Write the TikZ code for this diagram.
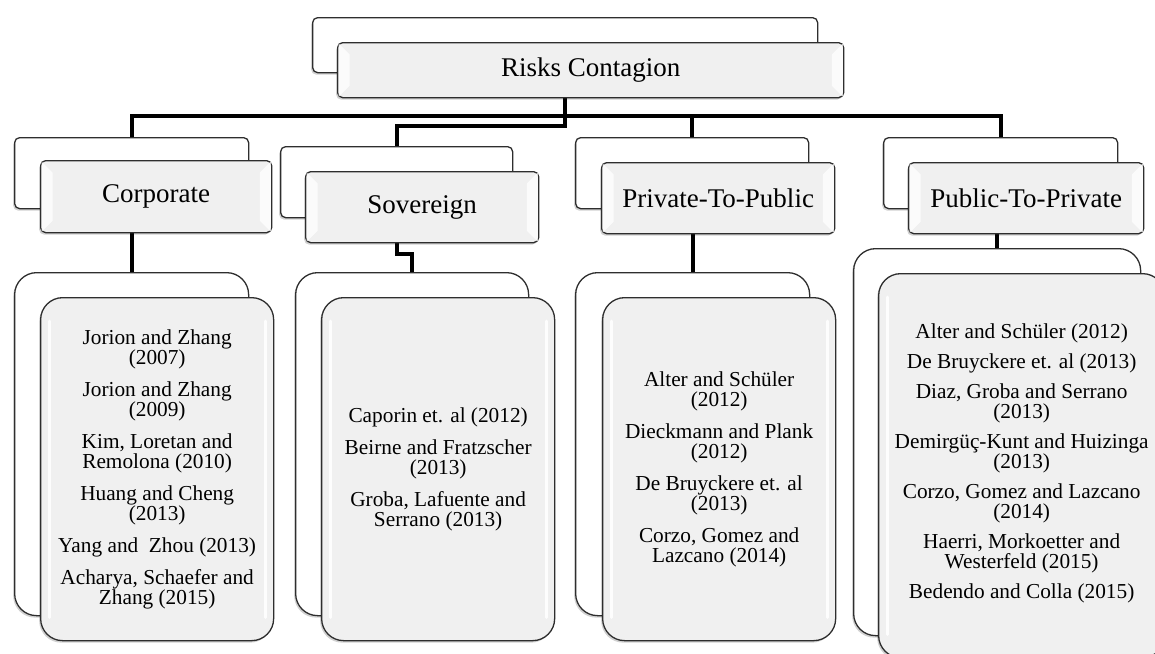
\documentclass[tikz,border=0pt]{standalone}
\usepackage{fontspec}
\setmainfont{Liberation Serif}
\usetikzlibrary{shadows}
\pgfdeclarelayer{background}
\pgfsetlayers{background,main}

\definecolor{edge}{HTML}{2E2E2E}
\definecolor{face}{HTML}{F0F0F0}

\newcommand\cardfont{\fontsize{21.3}{20}\selectfont}

\tikzset{
  tabback/.style={draw=edge, line width=1.3pt, fill=white, rectangle,
    rounded corners=5pt, anchor=north west, inner sep=0pt,
    drop shadow={shadow xshift=-1.5pt, shadow yshift=-2pt, opacity=0.18, fill=black}},
  tabfront/.style={tabback, fill=face, font=\fontsize{27}{29}\selectfont},
  cardback/.style={tabback, rounded corners=22pt},
  cardfront/.style={cardback, fill=face},
  cardtext/.style={align=center, font=\cardfont},
  link/.style={line width=4pt, black},
  gloss/.style={fill=white, opacity=0.75},
  streak/.style={white, line width=3pt, line cap=round, opacity=0.9},
}

% white bevel highlights at both ends of a tab
\newcommand\tabgloss[1]{%
  \fill[gloss] ([shift={(1.5,1.5)}]#1.north west) -- ++(11,11)
     -- ([shift={(12.5,-12.5)}]#1.south west) -- ([shift={(1.5,-1.5)}]#1.south west) -- cycle;
  \fill[gloss] ([shift={(-1.5,1.5)}]#1.north east) -- ++(-11,11)
     -- ([shift={(-12.5,-12.5)}]#1.south east) -- ([shift={(-1.5,-1.5)}]#1.south east) -- cycle;
}
% white streaks along the sides of a card
\newcommand\cardgloss[1]{%
  \draw[streak] ([shift={(9,24)}]#1.north west) -- ([shift={(9,-24)}]#1.south west);
  \draw[streak] ([shift={(-9,24)}]#1.north east) -- ([shift={(-9,-24)}]#1.south east);
}

\begin{document}
\begin{tikzpicture}[x=1pt, y=-1pt]
\useasboundingbox (0,0) rectangle (1155,653);
\clip (0,0) rectangle (1155,653);

% root
\node[tabback, minimum width=505pt, minimum height=55pt] (rootb) at (312,17) {};
\node[tabfront, minimum width=506pt, minimum height=55pt] (root) at (337,42) {Risks Contagion};
\tabgloss{root}

% categories
\node[tabback, minimum width=234pt, minimum height=71pt] (corpb) at (14,137) {};
\node[tabfront, minimum width=231pt, minimum height=72pt] (corp) at (40,160) {Corporate};
\tabgloss{corp}

\node[tabback, minimum width=232pt, minimum height=71pt] (sovb) at (280,146) {};
\node[tabfront, minimum width=233pt, minimum height=71pt] (sov) at (305,171) {Sovereign};
\tabgloss{sov}

\node[tabback, minimum width=233pt, minimum height=71pt] (privb) at (575,137) {};
\node[tabfront, minimum width=233pt, minimum height=71pt] (priv) at (601,162) {Private-To-Public};
\tabgloss{priv}

\node[tabback, minimum width=234pt, minimum height=71pt] (pubb) at (883,137) {};
\node[tabfront, minimum width=235pt, minimum height=71pt] (pub) at (908,162) {Public-To-Private};
\tabgloss{pub}

% reference cards
\node[cardback, minimum width=234pt, minimum height=343pt] (corpcb) at (14,272) {};
\node[cardfront, minimum width=233pt, minimum height=343pt] (corpc) at (40,297) {};
\cardgloss{corpc}
\node[cardtext] (corpt) at (corpc.center) {%
  Jorion and Zhang\\(2007)\\[12pt]
  Jorion and Zhang\\(2009)\\[12pt]
  Kim, Loretan and\\Remolona (2010)\\[12pt]
  Huang and Cheng\\(2013)\\[12pt]
  Yang and~ Zhou (2013)\\[12pt]
  Acharya, Schaefer and\\Zhang (2015)};

\node[cardback, minimum width=233pt, minimum height=343pt] (sovcb) at (295,272) {};
\node[cardfront, minimum width=233pt, minimum height=343pt] (sovc) at (321,297) {};
\cardgloss{sovc}
\node[cardtext] (sovt) at (sovc.center) {%
  Caporin et. al (2012)\\[12pt]
  Beirne and Fratzscher\\(2013)\\[12pt]
  Groba, Lafuente and\\Serrano (2013)};

\node[cardback, minimum width=234pt, minimum height=343pt] (privcb) at (575,272) {};
\node[cardfront, minimum width=233pt, minimum height=343pt] (privc) at (602,297) {};
\cardgloss{privc}
\node[cardtext] (privt) at (privc.center) {%
  Alter and Schüler\\(2012)\\[12pt]
  Dieckmann and Plank\\(2012)\\[12pt]
  De Bruyckere et. al\\(2013)\\[12pt]
  Corzo, Gomez and\\Lazcano (2014)};

\node[cardback, minimum width=287pt, minimum height=387pt] (pubcb) at (853,248) {};
\node[cardfront, minimum width=286pt, minimum height=384pt] (pubc) at (878,273) {};
\cardgloss{pubc}
\node[cardtext] (pubt) at ([yshift=2pt]pubc.center) {%
  Alter and Schüler (2012)\\[10pt]
  De Bruyckere et. al (2013)\\[10pt]
  Diaz, Groba and Serrano\\(2013)\\[10pt]
  Demirgüç-Kunt and Huizinga\\(2013)\\[10pt]
  Corzo, Gomez and Lazcano\\(2014)\\[10pt]
  Haerri, Morkoetter and\\Westerfeld (2015)\\[10pt]
  Bedendo and Colla (2015)};

% connectors, behind the boxes
\begin{pgfonlayer}{background}
  \draw[link] (rootb.south) -- ++(0,43) coordinate (hub);
  \draw[link] (corpb.north) |- (hub) -| (pubb.north);
  \draw[link] (privb.north) -- (privb.north |- hub);
  \draw[link] (rootb.south) -- ++(0,53) -| (sovb.north);
  \draw[link] (corpcb.north) -- (corpcb.north |- corpb.south);
  \draw[link] (sovb.south) -- ++(0,36) -| (sovcb.north);
  \draw[link] (privcb.north) -- (privcb.north |- privb.south);
  \draw[link] (pubcb.north) -- (pubcb.north |- pubb.south);
\end{pgfonlayer}
\end{tikzpicture}
\end{document}
